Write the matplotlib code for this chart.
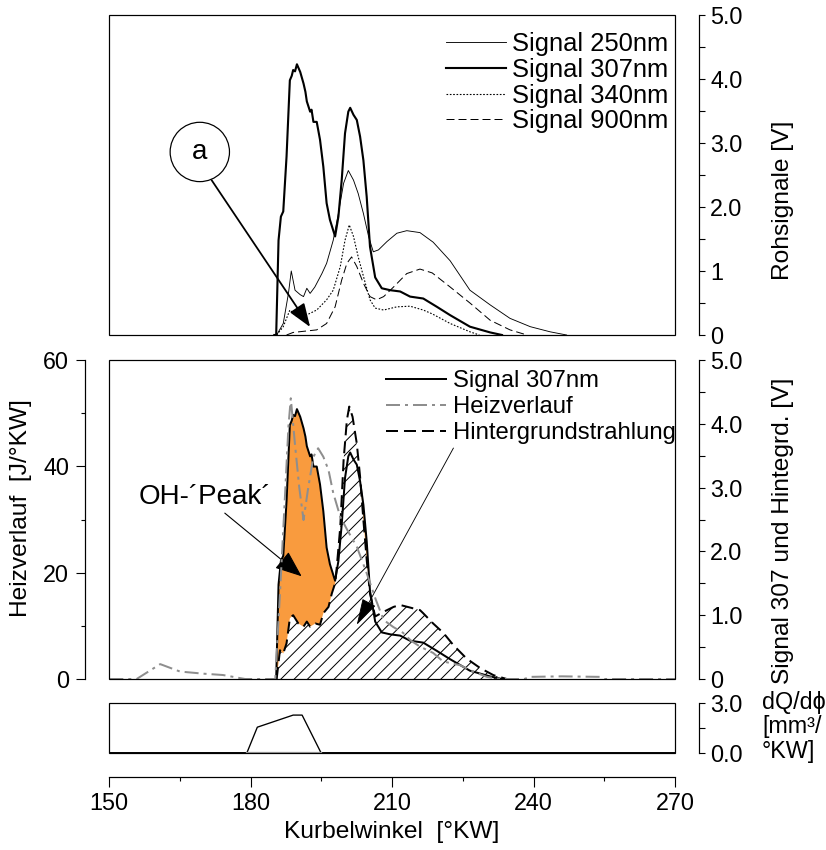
# Rohsignale, Heizverlauf und Einspritzverlauf ueber dem Kurbelwinkel
import numpy as np
import matplotlib
matplotlib.use("Agg")
import matplotlib.pyplot as plt
from matplotlib.patches import Rectangle
from matplotlib.ticker import MultipleLocator

# Rohsignale [V] over Kurbelwinkel [°KW]
kw_250 = [185.5, 186.9, 188.0, 188.6, 189.4, 190.5, 191.2, 191.9, 192.6, 193.6,
          195.1, 196.1, 197.5, 198.6, 199.7, 200.7, 201.8, 202.8, 203.9, 205.0,
          206.0, 207.1, 208.9, 211.0, 213.1, 215.9, 218.7, 222.3, 226.5, 230.8,
          235.0, 239.3, 243.5, 247.0]
sig_250 = [0.0, 0.18, 0.65, 1.00, 0.70, 0.63, 0.60, 0.73, 0.65, 0.75,
           0.96, 1.12, 1.48, 1.90, 2.37, 2.57, 2.42, 2.21, 1.90, 1.54,
           1.30, 1.33, 1.46, 1.59, 1.63, 1.60, 1.45, 1.16, 0.70, 0.47,
           0.26, 0.13, 0.05, 0.0]

kw_307 = [185.0, 185.4, 185.9, 186.4, 186.9, 187.6, 188.3, 188.7, 189.0, 189.4,
          189.8, 190.5, 191.2, 191.6, 191.9, 192.6, 192.9, 193.3, 194.0, 194.7,
          195.4, 196.1, 196.8, 197.9, 198.6, 199.3, 200.0, 200.7, 201.1, 201.8,
          202.5, 203.2, 203.9, 204.6, 205.3, 206.4, 207.8, 209.6, 211.7, 213.8,
          216.6, 219.5, 222.3, 226.5, 230.8, 233.3]
sig_307 = [0.0, 0.0, 1.48, 1.85, 1.93, 2.79, 3.98, 4.05, 4.14, 4.12,
           4.23, 4.11, 3.93, 3.80, 3.65, 3.49, 3.52, 3.33, 3.33, 3.05,
           2.63, 2.06, 1.80, 1.54, 1.85, 2.42, 3.15, 3.49, 3.55, 3.44,
           3.36, 3.10, 2.73, 2.16, 1.38, 0.90, 0.73, 0.70, 0.68, 0.60,
           0.57, 0.44, 0.31, 0.13, 0.04, 0.0]

kw_340 = [185.5, 186.9, 188.3, 189.8, 191.5, 194.0, 196.1, 197.5, 199.0, 200.0,
          200.9, 201.8, 202.8, 204.3, 205.3, 206.4, 208.2, 211.0, 213.8, 216.6,
          218.5, 222.3, 226.5, 228.5]
sig_340 = [0.0, 0.13, 0.39, 0.29, 0.30, 0.39, 0.55, 0.70, 1.07, 1.48,
           1.72, 1.54, 1.22, 0.81, 0.55, 0.42, 0.39, 0.44, 0.45, 0.39,
           0.33, 0.18, 0.05, 0.0]

kw_900 = [187.6, 189.0, 194.0, 196.1, 197.9, 199.3, 200.4, 201.4, 202.5, 203.9,
          205.3, 206.7, 208.2, 210.3, 213.1, 215.9, 218.5, 222.3, 226.5, 230.8,
          235.0, 238.6]
sig_900 = [0.0, 0.04, 0.08, 0.18, 0.44, 0.86, 1.12, 1.22, 1.07, 0.81,
           0.60, 0.55, 0.60, 0.75, 0.96, 1.03, 0.97, 0.75, 0.50, 0.23,
           0.08, 0.0]

# Hintergrundstrahlung [V]
kw_bg = [185.5, 186.2, 186.9, 187.6, 188.3, 188.7, 189.0, 190.1, 191.2, 191.9,
         192.6, 193.7, 194.7, 195.4, 196.5, 197.2, 197.9, 198.2, 199.0, 199.7,
         200.4, 200.9, 201.6, 202.5, 203.2, 203.9, 204.6, 205.3, 206.4, 208.1,
         210.3, 211.7, 213.8, 215.9, 216.6, 218.7, 220.9, 223.0, 225.8, 228.7,
         231.5, 234.3]
sig_bg = [0.0, 0.45, 0.40, 0.56, 0.95, 0.98, 1.00, 0.87, 0.82, 0.90,
          0.82, 0.87, 0.85, 1.03, 1.13, 1.34, 1.50, 1.71, 2.39, 3.43,
          4.06, 4.27, 4.11, 3.69, 3.17, 2.49, 1.87, 1.34, 0.98, 1.05,
          1.13, 1.16, 1.12, 1.08, 1.03, 0.87, 0.72, 0.53, 0.32, 0.17,
          0.06, 0.0]

# Heizverlauf [J/°KW]
kw_heiz = [150.0, 155.8, 160.8, 165.0, 170.0, 174.1, 178.8, 184.5, 185.2, 186.2,
           187.3, 188.0, 188.5, 189.4, 190.3, 191.2, 192.2, 193.3, 194.3, 195.4,
           196.5, 197.5, 199.0, 200.5, 202.5, 204.6, 206.5, 208.2, 210.2, 212.3,
           214.0, 215.9, 218.7, 220.8, 224.4, 227.2, 230.1, 233.0, 238.0, 239.3,
           246.0, 254.1, 255.0, 270.0]
heiz = [0.0, 0.0, 2.8, 1.4, 1.0, 0.75, 0.0, 0.0, 0.0, 16.0,
        35.0, 47.5, 52.8, 44.0, 36.0, 29.9, 36.0, 41.8, 43.4, 41.8,
        39.3, 35.0, 30.5, 28.0, 24.9, 19.9, 15.0, 11.1, 9.8, 8.7,
        7.2, 6.1, 4.9, 3.3, 2.6, 1.4, 0.4, 0.0, 0.0, 0.4,
        0.5, 0.4, 0.0, 0.0]

# Einspritzverlauf dQ/dphi [mm³/°KW]
kw_dq = [150.0, 179.2, 181.4, 189.0, 190.9, 194.9, 270.0]
dq = [0.0, 0.0, 1.54, 2.27, 2.27, 0.0, 0.0]
kw_dq_base = [179.2, 194.9]
dq_base = [0.0, 0.0]

DPI = 80
W, H = 826, 850
ORANGE = "#F99B3E"
GREY = "#8E8E8E"
OFFSET = 22  # spine offset in points
FS_TICK = 21
FS_LABEL = 22

plt.rcParams["font.family"] = ["Liberation Sans", "DejaVu Sans"]
plt.rcParams["font.size"] = FS_TICK
plt.rcParams["axes.labelsize"] = FS_LABEL
plt.rcParams["hatch.linewidth"] = 0.9
plt.rcParams["axes.linewidth"] = 1.1


def px_box(left, top, right, bottom):
    return [left / W, 1 - bottom / H, (right - left) / W, (bottom - top) / H]


def frame(ax):
    # closed box around the plot area, spines are used for the offset axes only
    for s in ax.spines.values():
        s.set_visible(False)
    ax.add_patch(Rectangle((0, 0), 1, 1, transform=ax.transAxes, fill=False,
                           lw=1.1, ec="k", zorder=5, clip_on=False))
    ax.tick_params(axis="x", which="both", bottom=False, labelbottom=False)
    ax.tick_params(axis="y", which="both", left=False, labelleft=False,
                   right=False, labelright=False)


def right_axis(ax, ticks, labels, minor):
    ax.yaxis.tick_right()
    ax.yaxis.set_label_position("right")
    ax.spines["right"].set_visible(True)
    ax.spines["right"].set_position(("outward", OFFSET))
    ax.set_yticks(ticks, labels)
    ax.yaxis.set_minor_locator(MultipleLocator(minor))
    ax.tick_params(axis="y", which="both", right=True, labelright=True,
                   left=False, labelleft=False,
                   direction="out", length=5, width=1.0, pad=4.5)


fig = plt.figure(figsize=(W / DPI, H / DPI), dpi=DPI)
ax_top = fig.add_axes(px_box(109.3, 15, 675, 335))
ax_mid = fig.add_axes(px_box(109.3, 360, 675, 679))
ax_bot = fig.add_axes(px_box(109.3, 703, 675, 752.7))
ax_heiz = ax_mid.twinx()

# --- Rohsignale
ax_top.plot(kw_250, sig_250, color="k", lw=0.8, label="Signal 250nm")
ax_top.plot(kw_307, sig_307, color="k", lw=1.9, label="Signal 307nm")
ax_top.plot(kw_340, sig_340, color="k", lw=1.0, ls=(0, (1.5, 1.5)),
            label="Signal 340nm")
ax_top.plot(kw_900, sig_900, color="k", lw=0.9, ls=(0, (8, 4)),
            label="Signal 900nm")
ax_top.set_xlim(150, 270)
ax_top.set_ylim(0, 5)
frame(ax_top)
right_axis(ax_top, [0, 1, 2, 3, 4, 5], ["0", "1", "2.0", "3.0", "4.0", "5.0"], 0.5)
ax_top.set_ylabel("Rohsignale [V]")
ax_top.yaxis.set_label_coords(1.172, 0.42)
ax_top.legend(loc="upper left", bbox_to_anchor=(0.595, 0.947), frameon=False,
              fontsize=23, borderpad=0, borderaxespad=0, handlelength=2.34,
              handletextpad=0.23, labelspacing=0.07)

ax_top.text(169.2, 2.86, "a", ha="center", va="center", zorder=6, fontsize=25,
            bbox=dict(boxstyle="circle,pad=0.6", fc="white", ec="k", lw=1.1))
ax_top.annotate("", xy=(192.6, 0.125), xytext=(171.7, 2.42), zorder=6,
                arrowprops=dict(arrowstyle="-|>,head_length=0.6,head_width=0.22",
                                mutation_scale=30, lw=1.6, color="k",
                                shrinkA=0, shrinkB=0))

# --- Signal 307nm, Hintergrund und Heizverlauf
xg = np.linspace(185.0, 235.0, 2001)
s307_g = np.interp(xg, kw_307, sig_307)
bg_g = np.interp(xg, kw_bg, sig_bg)
ax_mid.fill_between(xg, 0, bg_g, facecolor="white", edgecolor="k",
                    hatch="//", lw=0)
ax_mid.fill_between(xg, bg_g, s307_g, where=s307_g > bg_g, interpolate=True,
                    color=ORANGE, lw=0)
l307, = ax_mid.plot(kw_307, sig_307, color="k", lw=1.8, label="Signal 307nm")
lbg, = ax_mid.plot(kw_bg, sig_bg, color="k", lw=1.8, ls=(0, (6, 3)),
                   label="Hintergrundstrahlung")
ax_mid.set_xlim(150, 270)
ax_mid.set_ylim(0, 5)
for s in ax_mid.spines.values():
    s.set_visible(False)
ax_mid.tick_params(axis="x", which="both", bottom=False, labelbottom=False)
right_axis(ax_mid, [0, 1, 2, 3, 4, 5], ["0", "1.0", "2.0", "3.0", "4.0", "5.0"], 0.5)
ax_mid.set_ylabel("Signal 307 und Hintegrd. [V]")
ax_mid.yaxis.set_label_coords(1.172, 0.464)

lheiz, = ax_heiz.plot(kw_heiz, heiz, color=GREY, lw=1.8,
                      ls=(0, (7, 2.5, 1.5, 2.5)), label="Heizverlauf")
ax_heiz.set_ylim(0, 60)
frame(ax_heiz)
ax_heiz.yaxis.tick_left()
ax_heiz.yaxis.set_label_position("left")
ax_heiz.spines["left"].set_visible(True)
ax_heiz.spines["left"].set_position(("outward", OFFSET))
ax_heiz.set_yticks([0, 20, 40, 60])
ax_heiz.yaxis.set_minor_locator(MultipleLocator(10))
ax_heiz.tick_params(axis="y", which="major", left=True, labelleft=True,
                    right=False, labelright=False,
                    direction="out", length=8, width=1.0, pad=6)
ax_heiz.tick_params(axis="y", which="minor", left=True, right=False,
                    direction="out", length=4, width=1.0)
ax_heiz.set_ylabel("Heizverlauf  [J/°KW]")
ax_heiz.yaxis.set_label_coords(-0.137, 0.536)
ax_heiz.legend([l307, lheiz, lbg],
               ["Signal 307nm", "Heizverlauf", "Hintergrundstrahlung"],
               loc="upper left", bbox_to_anchor=(0.489, 0.968), frameon=False,
               fontsize=21.5, borderpad=0, borderaxespad=0, handlelength=2.5,
               handletextpad=0.3, labelspacing=0.17)

ax_mid.text(170.3, 2.85, "OH-´Peak´", ha="center", va="center", fontsize=25)
ax_mid.annotate("", xy=(190.8, 1.61), xytext=(174.5, 2.60),
                arrowprops=dict(arrowstyle="-|>,head_length=0.7,head_width=0.28",
                                mutation_scale=30, lw=1.0, color="k",
                                shrinkA=0, shrinkB=0))
ax_mid.annotate("", xy=(202.5, 0.85), xytext=(223.0, 3.62),
                arrowprops=dict(arrowstyle="-|>,head_length=0.7,head_width=0.2",
                                mutation_scale=30, lw=0.8, color="k",
                                shrinkA=0, shrinkB=0))

# --- Einspritzverlauf
ax_bot.plot(kw_dq, dq, color="k", lw=1.2)
ax_bot.plot(kw_dq_base, dq_base, color=GREY, lw=2.0, zorder=6)
ax_bot.set_xlim(150, 270)
ax_bot.set_ylim(0, 3)
frame(ax_bot)
right_axis(ax_bot, [0, 3], ["0.0", "3.0"], 1.5)
ax_bot.spines["bottom"].set_visible(True)
ax_bot.spines["bottom"].set_position(("outward", OFFSET))
ax_bot.set_xticks([150, 180, 210, 240, 270])
ax_bot.xaxis.set_minor_locator(MultipleLocator(15))
ax_bot.tick_params(axis="x", which="major", bottom=True, labelbottom=True,
                   direction="out", length=9, width=1.0, pad=4)
ax_bot.tick_params(axis="x", which="minor", bottom=True, direction="out",
                   length=4, width=1.0)
ax_bot.set_xlabel("Kurbelwinkel  [°KW]")
ax_bot.xaxis.label.set_va("center")
ax_bot.xaxis.set_label_coords(0.5, -1.605)
fig.text(762 / W, 1 - 727 / H, "dQ/dϕ\n[mm³/\n°KW]", ha="left", va="center",
         fontsize=FS_TICK, linespacing=1.08)

fig.savefig("out.png", dpi=DPI)
